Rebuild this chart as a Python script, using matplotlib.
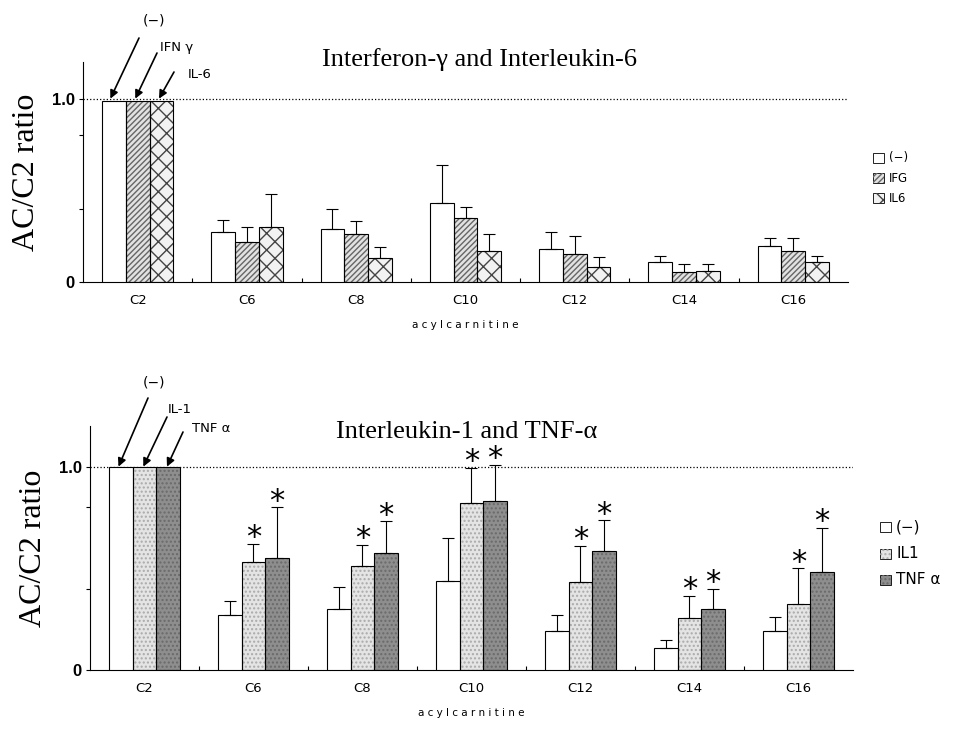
import numpy as np
import matplotlib
matplotlib.use("Agg")
import matplotlib.pyplot as plt

# acylcarnitine species on the x axis
categories = ["C2", "C6", "C8", "C10", "C12", "C14", "C16"]

# top panel: interferon-gamma and interleukin-6
top_labels = ["(−)", "IFG", "IL6"]
top_neg = [0.99, 0.27, 0.29, 0.43, 0.18, 0.11, 0.195]
top_neg_sd = [0, 0.07, 0.11, 0.21, 0.09, 0.03, 0.045]
top_ifg = [0.99, 0.22, 0.26, 0.35, 0.15, 0.056, 0.17]
top_ifg_sd = [0, 0.08, 0.07, 0.06, 0.10, 0.044, 0.07]
top_il6 = [0.99, 0.30, 0.13, 0.17, 0.08, 0.06, 0.11]
top_il6_sd = [0, 0.18, 0.06, 0.09, 0.055, 0.04, 0.03]

# bottom panel: interleukin-1 and TNF-alpha
bot_labels = ["(−)", "IL1", "TNF α"]
bot_neg = [1.0, 0.27, 0.30, 0.44, 0.19, 0.11, 0.19]
bot_neg_sd = [0, 0.07, 0.11, 0.21, 0.08, 0.04, 0.07]
bot_il1 = [1.0, 0.53, 0.51, 0.82, 0.435, 0.256, 0.325]
bot_il1_sd = [0, 0.09, 0.105, 0.175, 0.175, 0.11, 0.175]
bot_tnf = [1.0, 0.55, 0.576, 0.83, 0.586, 0.30, 0.48]
bot_tnf_sd = [0, 0.25, 0.155, 0.18, 0.15, 0.10, 0.22]
bot_sig_il1 = [False, True, True, True, True, True, True]
bot_sig_tnf = [False, True, True, True, True, True, True]

W, H = 954, 735
fig = plt.figure(figsize=(W / 100, H / 100), dpi=100)

def px(x, y):
    # image pixel -> figure fraction
    return x / W, 1 - y / H

bw = 0.217
x = np.arange(len(categories))

# (facecolor, hatch, hatch colour)
top_styles = [("white", None, None), ("#e2e2e2", "//////", "#666666"), ("#f2f2f2", "xx", "#444444")]
bot_styles = [("white", None, None), ("#e4e4e4", "....", "#aaaaaa"), ("#8e8e8e", "....", "#6a6a6a")]


def draw_bars(ax, series, sds, styles):
    for i, (vals, sd, st) in enumerate(zip(series, sds, styles)):
        xs = x + (i - 1) * bw
        fc, hatch, hc = st
        if hatch:
            ax.bar(xs, vals, bw, color=fc, hatch=hatch, edgecolor=hc, linewidth=0, zorder=2)
            ax.bar(xs, vals, bw, fill=False, edgecolor="black", linewidth=0.8, zorder=3)
        else:
            ax.bar(xs, vals, bw, color=fc, edgecolor="black", linewidth=0.8, zorder=3)
        lo = np.zeros(len(vals))
        ax.errorbar(xs[1:], np.array(vals)[1:], yerr=[lo[1:], np.array(sd)[1:]],
                    fmt="none", ecolor="black", elinewidth=0.8, capsize=4,
                    capthick=0.8, zorder=4)


def style_axis(ax):
    ax.set_xlim(-0.5, len(categories) - 0.5)
    ax.set_ylim(0, 1.2)
    ax.spines["top"].set_visible(False)
    ax.spines["right"].set_visible(False)
    ax.spines["left"].set_linewidth(0.8)
    ax.spines["bottom"].set_linewidth(0.8)
    ax.set_yticks([0, 0.4, 0.8, 1.0])
    ax.set_yticklabels(["0", "", "", "1.0"], fontsize=12, fontweight="bold",
                       family="Liberation Sans")
    ax.tick_params(axis="y", direction="out", length=3, width=0.8, pad=3)
    ax.set_xticks(x)
    ax.set_xticklabels(categories, fontsize=9.5, family="DejaVu Sans")
    ax.tick_params(axis="x", length=0, pad=9)
    ax.set_xticks(x[:-1] + 0.5, minor=True)
    ax.tick_params(axis="x", which="minor", direction="in", length=3, width=0.8)
    ax.axhline(1.0, ls=":", lw=0.9, color="black", zorder=1)
    ax.set_xlabel("a c y l c a r n i t i n e", fontsize=7.5, labelpad=9)
    ax.set_ylabel("AC/C2 ratio", fontsize=23, family="Liberation Serif", labelpad=8)


def legend(labels, styles, x0, ys, fs):
    for lab, st, yy in zip(labels, styles, ys):
        fc, hatch, hc = st
        fx, fy = px(x0, yy)
        r = plt.Rectangle((fx, fy - 0.007), 0.012, 0.014, transform=fig.transFigure,
                          facecolor=fc, edgecolor="black", linewidth=0.6,
                          hatch=None)
        fig.patches.append(r)
        if hatch:
            r2 = plt.Rectangle((fx, fy - 0.007), 0.012, 0.014, transform=fig.transFigure,
                               facecolor="none", edgecolor=hc, linewidth=0,
                               hatch=hatch)
            fig.patches.append(r2)
        fig.text(fx + 0.017, fy, lab, fontsize=fs, va="center", family="DejaVu Sans")


def arrow(ax, xdata, ydata, tail):
    ax.annotate("", xy=(xdata, ydata), xycoords="data",
                xytext=(tail[0], H - tail[1]), textcoords="figure pixels",
                arrowprops=dict(arrowstyle="-|>", color="black", lw=1.2,
                                mutation_scale=12, shrinkA=0, shrinkB=0))


# ---- top panel ----
ax1 = fig.add_axes([83 / W, 1 - 282 / H, (848 - 83) / W, (282 - 62) / H])
draw_bars(ax1, [top_neg, top_ifg, top_il6], [top_neg_sd, top_ifg_sd, top_il6_sd], top_styles)
style_axis(ax1)
fig.text(*px(480, 60), "Interferon-γ and Interleukin-6", fontsize=19,
         family="Liberation Serif", ha="center", va="center")
legend(top_labels, top_styles, 873, [158, 178, 198], 8.5)
arrow(ax1, x[0] - bw * 1.15, 1.0, (139, 38))
arrow(ax1, x[0] - bw * 0.1, 1.0, (157, 53))
arrow(ax1, x[0] + bw * 0.9, 1.0, (174, 72))
fig.text(*px(154, 20), "(−)", fontsize=10, ha="center", va="center")
fig.text(*px(177, 48), "IFN γ", fontsize=9.5, ha="center", va="center")
fig.text(*px(200, 75), "IL-6", fontsize=9.5, ha="center", va="center")

# ---- bottom panel ----
ax2 = fig.add_axes([90 / W, 1 - 670 / H, (853 - 90) / W, (670 - 426) / H])
draw_bars(ax2, [bot_neg, bot_il1, bot_tnf], [bot_neg_sd, bot_il1_sd, bot_tnf_sd], bot_styles)
style_axis(ax2)
fig.text(*px(467, 432), "Interleukin-1 and TNF-α", fontsize=19,
         family="Liberation Serif", ha="center", va="center")
legend(bot_labels, bot_styles, 880, [527, 554, 580], 11)
for i, (sig, vals, sd) in enumerate([(bot_sig_il1, bot_il1, bot_il1_sd),
                                     (bot_sig_tnf, bot_tnf, bot_tnf_sd)]):
    for j in range(len(categories)):
        if sig[j]:
            ax2.annotate("*", xy=(x[j] + i * bw, vals[j] + sd[j]), xytext=(0, -6),
                         textcoords="offset points", ha="center", va="bottom",
                         fontsize=22, family="DejaVu Sans")
arrow(ax2, x[0] - bw * 1.1, 1.0, (148, 398))
arrow(ax2, x[0] - bw * 0.05, 1.0, (167, 417))
arrow(ax2, x[0] + bw * 0.95, 1.0, (183, 432))
fig.text(*px(154, 383), "(−)", fontsize=10, ha="center", va="center")
fig.text(*px(180, 410), "IL-1", fontsize=9.5, ha="center", va="center")
fig.text(*px(211, 428), "TNF α", fontsize=9.5, ha="center", va="center")

fig.savefig("out.png", dpi=100)
